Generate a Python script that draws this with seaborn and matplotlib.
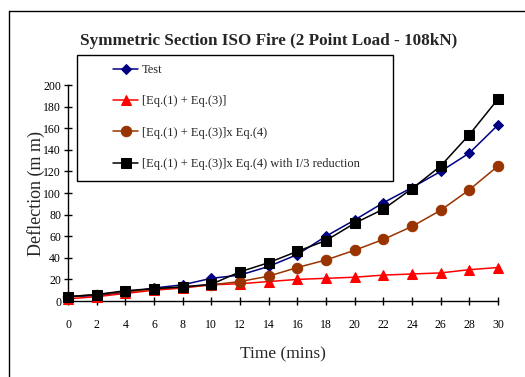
import matplotlib
matplotlib.use("Agg")
import matplotlib.pyplot as plt
from matplotlib.patches import Rectangle
from matplotlib.lines import Line2D
import seaborn as sns
import pandas as pd

# Deflection at midspan vs fire exposure time
time_min = [0, 2, 4, 6, 8, 10, 12, 14, 16, 18, 20, 22, 24, 26, 28, 30]
test = [4, 5, 8, 12, 15, 21, 24, 32, 43, 60, 75, 91, 105, 120, 137, 163]
eq1_eq3 = [2, 4, 7, 10, 12, 15, 16, 18, 20, 21, 22, 24, 25, 26, 29, 31]
eq1_eq3_eq4 = [4, 6, 8.5, 11, 13, 15, 18, 23, 31, 38, 47, 57, 69, 84, 103, 125]
eq1_eq3_eq4_i3 = [4, 6, 9.5, 11.5, 13, 15.5, 27, 35.5, 46, 56, 72, 85, 104, 125, 154, 187]

labels = ["Test", "[Eq.(1) + Eq.(3)]", "[Eq.(1) + Eq.(3)]x Eq.(4)",
          "[Eq.(1) + Eq.(3)]x Eq.(4) with I/3 reduction"]
series = [test, eq1_eq3, eq1_eq3_eq4, eq1_eq3_eq4_i3]
colors = ["#000080", "#FF0000", "#993300", "#000000"]
markers = ["D", "^", "o", "s"]
msizes = [5.5, 7.5, 7.5, 6.5]

sns.set_style("ticks")
plt.rcParams["font.family"] = ["Liberation Serif", "DejaVu Serif"]

fig = plt.figure(figsize=(5.25, 3.77), dpi=100)
ax = fig.add_axes([68 / 525, 1 - 301 / 377, 430 / 525, 216 / 377])

for lab, vals, c, m, ms in zip(labels, series, colors, markers, msizes):
    df = pd.DataFrame({"t": time_min, "d": vals})
    sns.lineplot(data=df, x="t", y="d", ax=ax, color=c, marker=m,
                 markersize=ms, markeredgecolor=c, linewidth=1.1,
                 label=lab, clip_on=False, zorder=3)

ax.set_xlim(0, 30)
ax.set_ylim(0, 200)
ax.set_xticks(range(0, 31, 2))
ax.set_yticks(range(0, 201, 20))
for s in ["top", "right"]:
    ax.spines[s].set_visible(False)
for s in ["left", "bottom"]:
    ax.spines[s].set_color("black")
    ax.spines[s].set_linewidth(1.0)
ax.tick_params(axis="both", direction="inout", length=6, width=1.0,
               labelsize=8.5, colors="black")
ax.tick_params(axis="x", pad=10)
ax.tick_params(axis="y", pad=2)

ax.set_xlabel("Time (mins)", fontsize=12.5, labelpad=11)
ax.set_ylabel("Deflection (m m)", fontsize=13, labelpad=-1)

fig.text(269 / 525, 1 - 41 / 377,
         "Symmetric Section ISO Fire (2 Point Load - 108kN)",
         ha="center", va="center", fontsize=12.3, fontweight="bold")

# legend inside a plain square box
handles, labs = ax.get_legend_handles_labels()
ax.legend(handles, labs, loc="upper left", frameon=False,
          bbox_to_anchor=(113 / 525, 1 - 64 / 377),
          bbox_transform=fig.transFigure, fontsize=9,
          handlelength=2.0, handletextpad=0.3, labelspacing=1.55,
          borderpad=0, borderaxespad=0)
fig.patches.append(Rectangle((77 / 525, 1 - 181 / 377), 316 / 525, 126 / 377,
                             transform=fig.transFigure, fill=False,
                             edgecolor="black", linewidth=1.0, zorder=2))

# outer chart frame (left and top edges)
fig.lines.append(Line2D([8.5 / 525, 8.5 / 525], [0, 1 - 11 / 377],
                        transform=fig.transFigure, color="black", lw=1.0))
fig.lines.append(Line2D([8.5 / 525, 1], [1 - 11 / 377, 1 - 11 / 377],
                        transform=fig.transFigure, color="black", lw=1.0))

fig.savefig("out.png", dpi=100, facecolor="white")
